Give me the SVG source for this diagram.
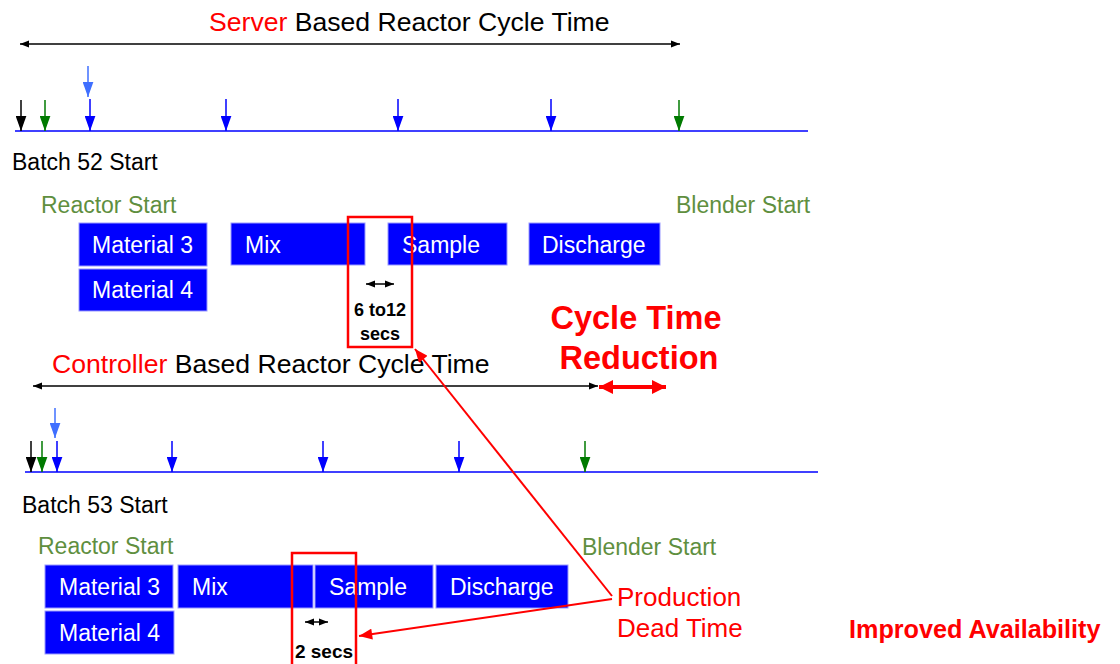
<svg xmlns="http://www.w3.org/2000/svg" width="1120" height="664" viewBox="0 0 1120 664">
<defs>
<style>
text{font-family:"Liberation Sans",Arial,sans-serif}
.t{font-size:26.6px;fill:#000}
.r{fill:#ff0000}
.g{font-size:23px;fill:#5f8f3f}
.lbl{font-size:23px;fill:#000}
.box{fill:#0000ff;stroke:#9999ff;stroke-width:1}
.bt{font-size:23px;fill:#ffffff}
.tl{stroke:#0000ff;stroke-width:1.5}
.sm{font-size:18px;font-weight:bold;fill:#000}
.rb{fill:none;stroke:#ff0000;stroke-width:2.5}
.rl{stroke:#ff0000;stroke-width:2;fill:none}
.blk{stroke:#000;stroke-width:1.5}
.grn{stroke:#007a00;stroke-width:1.5}
.blu{stroke:#0000ff;stroke-width:1.5}
.lbl2{stroke:#3f6fff;stroke-width:1.5}
</style>
<marker id="hk" viewBox="0 0 10 14" refX="5" refY="14" markerWidth="11" markerHeight="15" markerUnits="userSpaceOnUse"><path d="M0,0 L10,0 L5,14 Z" fill="#000"/></marker>
<marker id="hg" viewBox="0 0 10 14" refX="5" refY="14" markerWidth="11" markerHeight="15" markerUnits="userSpaceOnUse"><path d="M0,0 L10,0 L5,14 Z" fill="#007a00"/></marker>
<marker id="hb" viewBox="0 0 10 14" refX="5" refY="14" markerWidth="11" markerHeight="15" markerUnits="userSpaceOnUse"><path d="M0,0 L10,0 L5,14 Z" fill="#0000ff"/></marker>
<marker id="hl" viewBox="0 0 10 14" refX="5" refY="14" markerWidth="11" markerHeight="15" markerUnits="userSpaceOnUse"><path d="M0,0 L10,0 L5,14 Z" fill="#3f6fff"/></marker>
<marker id="da" viewBox="0 0 10 8" refX="10" refY="4" markerWidth="9" markerHeight="8" markerUnits="userSpaceOnUse" orient="auto-start-reverse"><path d="M0,0 L10,4 L0,8 Z" fill="#000"/></marker>
<marker id="dr" viewBox="0 0 14 14" refX="14" refY="7" markerWidth="16" markerHeight="14" markerUnits="userSpaceOnUse" orient="auto-start-reverse"><path d="M0,0 L14,7 L0,14 Z" fill="#ff0000"/></marker>
<marker id="ra" viewBox="0 0 12 10" refX="12" refY="5" markerWidth="14" markerHeight="11" markerUnits="userSpaceOnUse" orient="auto"><path d="M0,0 L12,5 L0,10 Z" fill="#ff0000"/></marker>
</defs>

<g id="server-title">
<text class="t" x="209" y="31"><tspan class="r">Server</tspan> Based Reactor Cycle Time</text>
<line class="blk" x1="20" y1="44" x2="680" y2="44" marker-start="url(#da)" marker-end="url(#da)"/>
</g>

<g id="timeline-1">
<line class="tl" x1="15" y1="131" x2="808" y2="131"/>
<line class="blk" x1="21" y1="100" x2="21" y2="131" marker-end="url(#hk)"/>
<line class="grn" x1="45" y1="100" x2="45" y2="131" marker-end="url(#hg)"/>
<line class="blu" x1="90" y1="99" x2="90" y2="131" marker-end="url(#hb)"/>
<line class="lbl2" x1="88" y1="66" x2="88" y2="97" marker-end="url(#hl)"/>
<line class="blu" x1="226" y1="99" x2="226" y2="131" marker-end="url(#hb)"/>
<line class="blu" x1="398" y1="99" x2="398" y2="131" marker-end="url(#hb)"/>
<line class="blu" x1="551" y1="99" x2="551" y2="131" marker-end="url(#hb)"/>
<line class="grn" x1="679" y1="100" x2="679" y2="131" marker-end="url(#hg)"/>
</g>

<g id="batch52">
<text class="lbl" x="12" y="170">Batch 52 Start</text>
<text class="g" x="41" y="213">Reactor Start</text>
<text class="g" x="676" y="213">Blender Start</text>
</g>

<g id="row1-material3"><rect class="box" x="79" y="223" width="128" height="43"/><text class="bt" x="92" y="253">Material 3</text></g>
<g id="row1-material4"><rect class="box" x="79" y="269" width="128" height="42"/><text class="bt" x="92" y="298">Material 4</text></g>
<g id="row1-mix"><rect class="box" x="231" y="223" width="134" height="42"/><text class="bt" x="245" y="253">Mix</text></g>
<g id="row1-sample"><rect class="box" x="388" y="223" width="119" height="42"/><text class="bt" x="402" y="253">Sample</text></g>
<g id="row1-discharge"><rect class="box" x="529" y="223" width="131" height="42"/><text class="bt" x="542" y="253">Discharge</text></g>

<g id="gap1">
<rect class="rb" x="348" y="217" width="64" height="130"/>
<line class="blk" x1="366" y1="284" x2="394" y2="284" marker-start="url(#da)" marker-end="url(#da)"/>
<text class="sm" x="380" y="316" text-anchor="middle">6 to12</text>
<text class="sm" x="380" y="340" text-anchor="middle">secs</text>
</g>

<g id="reduction">
<text x="636" y="329" text-anchor="middle" font-size="32.5" font-weight="bold" fill="#ff0000">Cycle Time</text>
<text x="639" y="369" text-anchor="middle" font-size="32.5" font-weight="bold" fill="#ff0000">Reduction</text>
<line x1="599" y1="387" x2="666" y2="387" stroke="#ff0000" stroke-width="4" marker-start="url(#dr)" marker-end="url(#dr)"/>
</g>

<g id="controller-title">
<text class="t" x="52" y="373"><tspan class="r">Controller</tspan> Based Reactor Cycle Time</text>
<line class="blk" x1="33" y1="386" x2="598" y2="386" marker-start="url(#da)" marker-end="url(#da)"/>
</g>

<g id="timeline-2">
<line class="tl" x1="25" y1="472" x2="818" y2="472"/>
<line class="blk" x1="31" y1="441" x2="31" y2="472" marker-end="url(#hk)"/>
<line class="grn" x1="42" y1="441" x2="42" y2="472" marker-end="url(#hg)"/>
<line class="blu" x1="57" y1="441" x2="57" y2="472" marker-end="url(#hb)"/>
<line class="lbl2" x1="55" y1="408" x2="55" y2="438" marker-end="url(#hl)"/>
<line class="blu" x1="172" y1="441" x2="172" y2="472" marker-end="url(#hb)"/>
<line class="blu" x1="323" y1="441" x2="323" y2="472" marker-end="url(#hb)"/>
<line class="blu" x1="459" y1="441" x2="459" y2="472" marker-end="url(#hb)"/>
<line class="grn" x1="585" y1="441" x2="585" y2="472" marker-end="url(#hg)"/>
</g>

<g id="batch53">
<text class="lbl" x="22" y="513">Batch 53 Start</text>
<text class="g" x="38" y="554">Reactor Start</text>
<text class="g" x="582" y="555">Blender Start</text>
</g>

<g id="row2-material3"><rect class="box" x="45" y="565" width="128" height="43"/><text class="bt" x="59" y="595">Material 3</text></g>
<g id="row2-material4"><rect class="box" x="45" y="611" width="129" height="43"/><text class="bt" x="59" y="641">Material 4</text></g>
<g id="row2-mix"><rect class="box" x="178" y="565" width="135" height="43"/><text class="bt" x="192" y="595">Mix</text></g>
<g id="row2-sample"><rect class="box" x="315" y="565" width="118" height="43"/><text class="bt" x="329" y="595">Sample</text></g>
<g id="row2-discharge"><rect class="box" x="436" y="565" width="132" height="43"/><text class="bt" x="450" y="595">Discharge</text></g>

<g id="gap2">
<rect class="rb" x="292" y="553" width="64" height="120"/>
<line class="blk" x1="305" y1="622" x2="328" y2="622" marker-start="url(#da)" marker-end="url(#da)"/>
<text x="324" y="658" text-anchor="middle" font-size="19" font-weight="bold" fill="#000">2 secs</text>
</g>

<g id="dead-time">
<text x="617" y="606" font-size="26" fill="#ff0000">Production</text>
<text x="617" y="637" font-size="26" fill="#ff0000">Dead Time</text>
</g>

<g id="connectors">
<line class="rl" x1="612" y1="596" x2="415" y2="349" marker-end="url(#ra)"/>
<line class="rl" x1="612" y1="599" x2="359" y2="636" marker-end="url(#ra)"/>
</g>

<g id="availability">
<text x="849" y="638" font-size="25.2" font-weight="bold" fill="#ff0000">Improved Availability</text>
</g>
</svg>
